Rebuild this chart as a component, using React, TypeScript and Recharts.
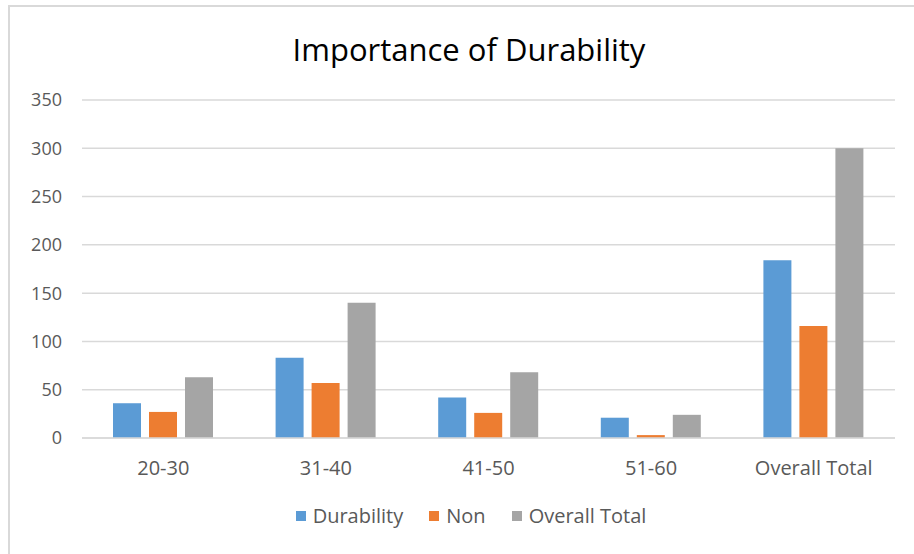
import React from 'react'
import { BarChart, Bar, XAxis, YAxis, CartesianGrid, Legend } from 'recharts'

const categories = ['20-30', '31-40', '41-50', '51-60', 'Overall Total']
const durability = [36, 83, 42, 21, 184]
const non = [27, 57, 26, 3, 116]
const overallTotal = [63, 140, 68, 24, 300]
const yTicks = [0, 50, 100, 150, 200, 250, 300, 350]

const data = categories.map((name, i) => ({
  name,
  durability: durability[i],
  non: non[i],
  overall: overallTotal[i],
}))

const series = [
  { key: 'durability', label: 'Durability', color: '#5B9BD5' },
  { key: 'non', label: 'Non', color: '#ED7D31' },
  { key: 'overall', label: 'Overall Total', color: '#A5A5A5' },
]

const font = '"Open Sans", Lato, sans-serif'

function LegendContent() {
  return (
    <div
      style={{
        display: 'flex',
        justifyContent: 'center',
        paddingTop: 18,
        paddingLeft: 47,
        fontFamily: font,
        fontSize: 20,
        color: '#595959',
      }}
    >
      {series.map((s) => (
        <div key={s.key} style={{ display: 'flex', alignItems: 'center', margin: '0 13px' }}>
          <span style={{ width: 10, height: 10, background: s.color, display: 'inline-block', marginRight: 7 }} />
          <span>{s.label}</span>
        </div>
      ))}
    </div>
  )
}

export default function App() {
  return (
    <div style={{ position: 'fixed', left: 0, top: 0, width: 914, height: 554, background: '#fff', overflow: 'hidden' }}>
      <div
        style={{
          position: 'absolute',
          left: 8,
          top: 5,
          width: 1000,
          height: 1000,
          borderTop: '2px solid #D9D9D9',
          borderLeft: '2px solid #D9D9D9',
        }}
      />
      <div
        style={{
          position: 'absolute',
          left: 0,
          width: 914,
          top: 28,
          textAlign: 'center',
          fontFamily: font,
          fontSize: 31,
          color: '#000',
          paddingLeft: 12,
        }}
      >
        Importance of Durability
      </div>
      <div style={{ position: 'absolute', left: 0, top: 0 }}>
        <BarChart
          width={914}
          height={554}
          data={data}
          margin={{ top: 100, right: 19, bottom: 0, left: 0 }}
          barSize={28}
          barGap={8}
        >
          <CartesianGrid vertical={false} stroke="#D9D9D9" strokeWidth={1.5} />
          <XAxis
            dataKey="name"
            tickLine={false}
            axisLine={{ stroke: '#D9D9D9', strokeWidth: 1.5 }}
            tick={{ fill: '#595959', fontSize: 20, fontFamily: font }}
            tickMargin={17}
            height={46}
          />
          <YAxis
            domain={[0, 350]}
            ticks={yTicks}
            tickLine={false}
            axisLine={false}
            tickSize={0}
            tickMargin={20}
            width={82}
            tick={{ fill: '#595959', fontSize: 18, fontFamily: font }}
          />
          <Legend verticalAlign="bottom" height={70} content={<LegendContent />} />
          {series.map((s) => (
            <Bar key={s.key} dataKey={s.key} name={s.label} fill={s.color} isAnimationActive={false} />
          ))}
        </BarChart>
      </div>
    </div>
  )
}
